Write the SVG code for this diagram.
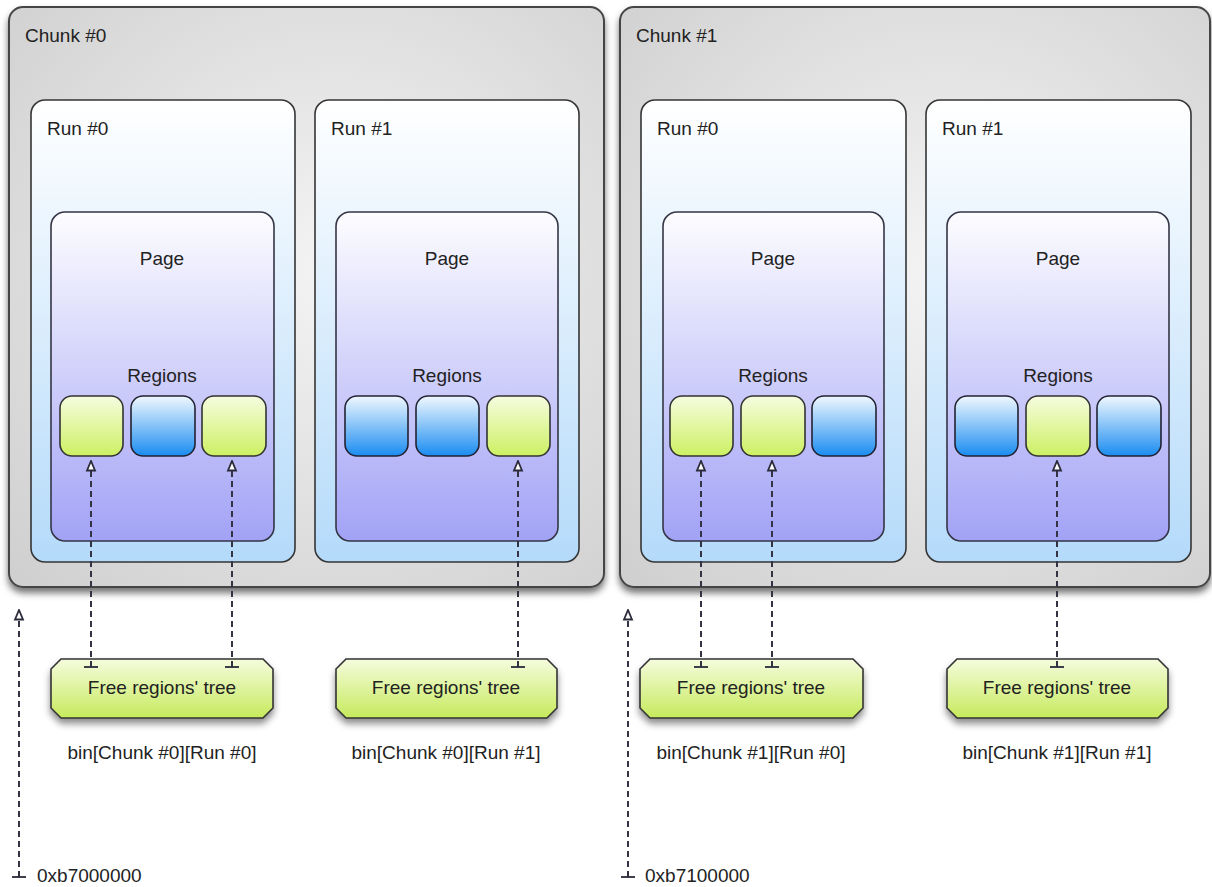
<svg xmlns="http://www.w3.org/2000/svg" width="1212" height="887" viewBox="0 0 1212 887">
<defs>
<radialGradient id="gChunk" cx="0.55" cy="0.45" r="0.75">
<stop offset="0" stop-color="#f4f4f4"/>
<stop offset="1" stop-color="#d0d0d0"/>
</radialGradient>
<linearGradient id="gRun" x1="0" y1="0" x2="0" y2="1">
<stop offset="0" stop-color="#ffffff"/>
<stop offset="1" stop-color="#b4dafa"/>
</linearGradient>
<linearGradient id="gPage" x1="0" y1="0" x2="0" y2="1">
<stop offset="0" stop-color="#fdfdff"/>
<stop offset="1" stop-color="#a2a2f6"/>
</linearGradient>
<linearGradient id="gFree" x1="0" y1="0" x2="0" y2="1">
<stop offset="0" stop-color="#f6fce0"/>
<stop offset="1" stop-color="#cdf062"/>
</linearGradient>
<linearGradient id="gUsed" x1="0" y1="0" x2="0" y2="1">
<stop offset="0" stop-color="#f0f8ff"/>
<stop offset="1" stop-color="#1a8cf0"/>
</linearGradient>
<linearGradient id="gTree" x1="0" y1="0" x2="0" y2="1">
<stop offset="0" stop-color="#f6fcde"/>
<stop offset="1" stop-color="#c6ea5c"/>
</linearGradient>
<filter id="shadow" x="-5%" y="-5%" width="110%" height="115%">
<feDropShadow dx="0" dy="5" stdDeviation="3.5" flood-color="#000" flood-opacity="0.55"/>
</filter>
<filter id="shadowS" x="-5%" y="-10%" width="110%" height="140%">
<feDropShadow dx="0" dy="5" stdDeviation="3.5" flood-color="#000" flood-opacity="0.45"/>
</filter>
<marker id="head" markerUnits="userSpaceOnUse" viewBox="0 0 12 12" refX="11" refY="6" markerWidth="12" markerHeight="12" orient="auto">
<path d="M1.5,2 L11,6 L1.5,10 Z" fill="#fff" stroke="#2a2a3a" stroke-width="1.8"/>
</marker>
<marker id="tee" markerUnits="userSpaceOnUse" viewBox="0 0 4 16" refX="2" refY="8" markerWidth="4" markerHeight="16" orient="auto">
<line x1="2" y1="1" x2="2" y2="15" stroke="#2a2a3a" stroke-width="1.8"/>
</marker>
<style>
.chunk{fill:url(#gChunk);stroke:#454545;stroke-width:2;filter:url(#shadow)}
.run{fill:url(#gRun);stroke:#353535;stroke-width:1.6}
.page{fill:url(#gPage);stroke:#353545;stroke-width:1.6}
.free{fill:url(#gFree);stroke:#333;stroke-width:1.6}
.used{fill:url(#gUsed);stroke:#223;stroke-width:1.6}
.tree{fill:url(#gTree);stroke:#333;stroke-width:1.6;filter:url(#shadowS)}
text{font-family:"Liberation Sans",Arial,sans-serif;font-size:19px;fill:#222}
.c{text-anchor:middle}
.conn{fill:none;stroke:#333344;stroke-width:2;stroke-dasharray:6 4;marker-start:url(#tee);marker-end:url(#head)}
</style>
</defs>

<g id="chunk0">
<rect class="chunk" x="9" y="7" width="595" height="580" rx="14"/>
<text x="25" y="42">Chunk #0</text>
</g>
<g id="chunk1">
<rect class="chunk" x="620" y="7" width="590" height="580" rx="14"/>
<text x="636" y="42">Chunk #1</text>
</g>

<g id="c0-run0">
<rect class="run" x="31" y="100" width="264" height="462" rx="14"/>
<text x="47" y="135">Run #0</text>
</g>
<g id="c0-run1">
<rect class="run" x="315" y="100" width="264" height="462" rx="14"/>
<text x="331" y="135">Run #1</text>
</g>
<g id="c1-run0">
<rect class="run" x="641" y="100" width="265" height="462" rx="14"/>
<text x="657" y="135">Run #0</text>
</g>
<g id="c1-run1">
<rect class="run" x="926" y="100" width="265" height="462" rx="14"/>
<text x="942" y="135">Run #1</text>
</g>

<g id="c0-run0-page">
<rect class="page" x="51" y="212" width="223" height="329" rx="14"/>
<text class="c" x="162" y="265">Page</text>
<text class="c" x="162" y="382">Regions</text>
</g>
<g id="c0-run1-page">
<rect class="page" x="336" y="212" width="222" height="329" rx="14"/>
<text class="c" x="447" y="265">Page</text>
<text class="c" x="447" y="382">Regions</text>
</g>
<g id="c1-run0-page">
<rect class="page" x="663" y="212" width="221" height="329" rx="14"/>
<text class="c" x="773" y="265">Page</text>
<text class="c" x="773" y="382">Regions</text>
</g>
<g id="c1-run1-page">
<rect class="page" x="947" y="212" width="222" height="329" rx="14"/>
<text class="c" x="1058" y="265">Page</text>
<text class="c" x="1058" y="382">Regions</text>
</g>

<g id="c0-run0-regions">
<rect class="free" x="60" y="396" width="63" height="60" rx="12"/>
<rect class="used" x="131" y="396" width="64" height="60" rx="12"/>
<rect class="free" x="202" y="396" width="64" height="60" rx="12"/>
</g>
<g id="c0-run1-regions">
<rect class="used" x="345" y="396" width="63" height="60" rx="12"/>
<rect class="used" x="416" y="396" width="63" height="60" rx="12"/>
<rect class="free" x="487" y="396" width="63" height="60" rx="12"/>
</g>
<g id="c1-run0-regions">
<rect class="free" x="670" y="396" width="63" height="60" rx="12"/>
<rect class="free" x="741" y="396" width="64" height="60" rx="12"/>
<rect class="used" x="812" y="396" width="64" height="60" rx="12"/>
</g>
<g id="c1-run1-regions">
<rect class="used" x="955" y="396" width="63" height="60" rx="12"/>
<rect class="free" x="1026" y="396" width="64" height="60" rx="12"/>
<rect class="used" x="1097" y="396" width="64" height="60" rx="12"/>
</g>

<g id="tree-c0-r0">
<path class="tree" d="M61,659 H263 L273,669 V708 L263,718 H61 L51,708 V669 Z"/>
<text class="c" x="162" y="694">Free regions' tree</text>
<text class="c" x="162" y="759">bin[Chunk #0][Run #0]</text>
</g>
<g id="tree-c0-r1">
<path class="tree" d="M346,659 H547 L557,669 V708 L547,718 H346 L336,708 V669 Z"/>
<text class="c" x="446" y="694">Free regions' tree</text>
<text class="c" x="446" y="759">bin[Chunk #0][Run #1]</text>
</g>
<g id="tree-c1-r0">
<path class="tree" d="M650,659 H853 L863,669 V708 L853,718 H650 L640,708 V669 Z"/>
<text class="c" x="751" y="694">Free regions' tree</text>
<text class="c" x="751" y="759">bin[Chunk #1][Run #0]</text>
</g>
<g id="tree-c1-r1">
<path class="tree" d="M957,659 H1158 L1168,669 V708 L1158,718 H957 L947,708 V669 Z"/>
<text class="c" x="1057" y="694">Free regions' tree</text>
<text class="c" x="1057" y="759">bin[Chunk #1][Run #1]</text>
</g>

<g id="addr0">
<text x="37" y="882">0xb7000000</text>
</g>
<g id="addr1">
<text x="645" y="882">0xb7100000</text>
</g>

<g id="connectors">
<path class="conn" d="M91,667 V461"/>
<path class="conn" d="M232,667 V461"/>
<path class="conn" d="M518,667 V461"/>
<path class="conn" d="M701,667 V461"/>
<path class="conn" d="M772,667 V461"/>
<path class="conn" d="M1057,667 V461"/>
<path class="conn" d="M19,877 V610"/>
<path class="conn" d="M628,877 V610"/>
</g>
</svg>
